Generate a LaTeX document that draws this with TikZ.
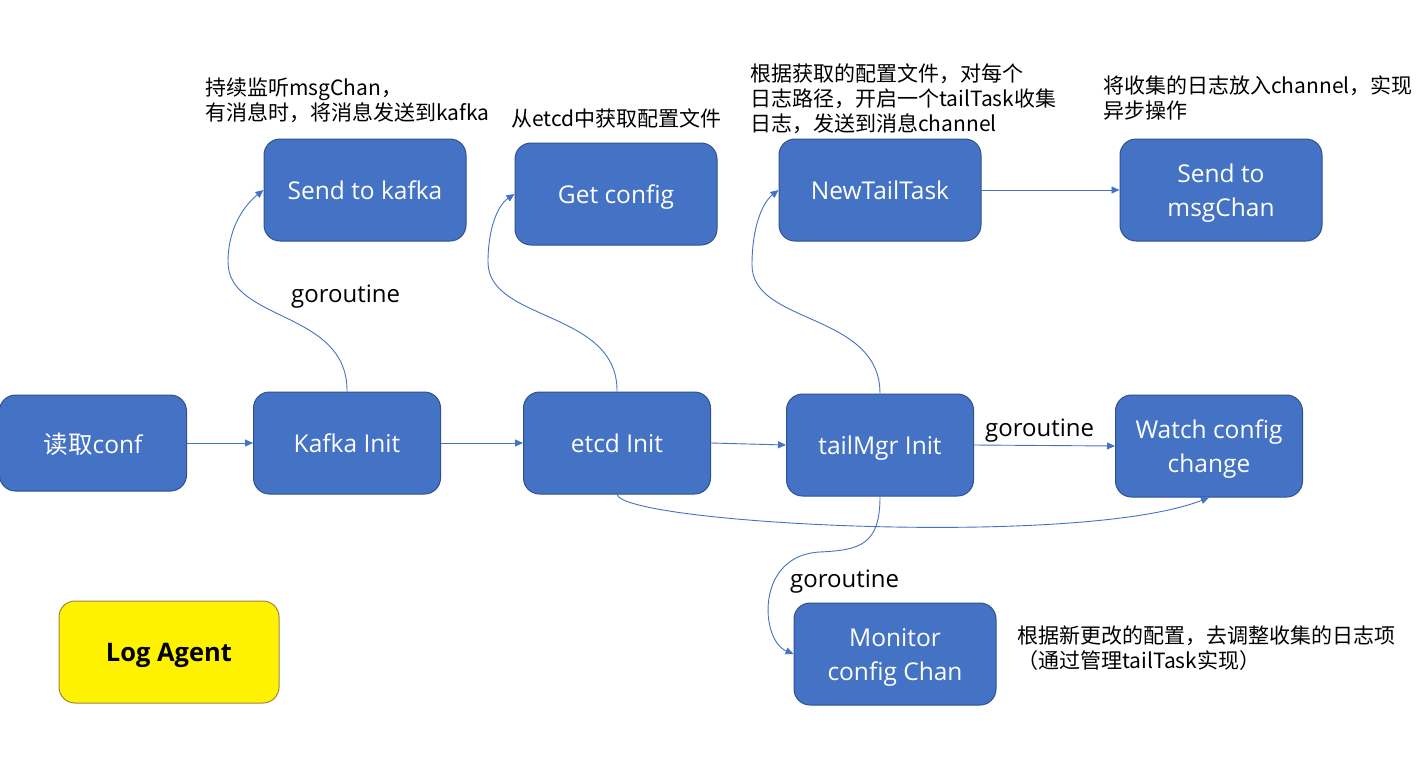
\documentclass[tikz,border=0pt]{standalone}
\usepackage{fontspec}
\setmainfont{Open Sans}
\newfontfamily\cjk{Noto Sans CJK SC}
\usetikzlibrary{arrows.meta}
\definecolor{boxblue}{HTML}{4472C4}
\definecolor{boxedge}{HTML}{2F528F}
\definecolor{agentedge}{HTML}{A08443}
\begin{document}
\begin{tikzpicture}[x=1pt,y=-1pt,
  box/.style={draw=boxedge, line width=1pt, fill=boxblue, rounded corners=16pt,
    minimum width=187pt, minimum height=102pt, inner sep=0pt, text=white,
    font=\fontsize{24.5}{34}\selectfont, align=center, text depth=0pt},
  widebox/.style={box, minimum width=202pt},
  twoline/.style={text depth=-3pt},
  conn/.style={draw=boxblue, line width=0.9pt, -{Triangle[length=8pt,width=7pt]}},
  note/.style={font=\cjk\fontsize{21}{25}\selectfont, align=left, inner sep=0pt, anchor=base west},
  golabel/.style={font=\fontsize{24}{28}\selectfont, inner sep=0pt, anchor=base west}]
\useasboundingbox[fill=white] (0,0) rectangle (1422,764);

% main row
\node[box, minimum height=96pt] (conf) at (93,443) {{\cjk 读取}conf};
\node[box] (kafka) at (347,443) {Kafka Init};
\node[box] (etcd) at (617,443) {etcd Init};
\node[box] (tailmgr) at (880,445) {tailMgr Init};
\node[box, twoline] (watch) at (1209,446) {Watch config\\change};

% top row
\node[widebox] (send) at (365,190) {Send to kafka};
\node[widebox] (getcfg) at (616,194) {Get config};
\node[widebox] (newtail) at (880,190) {NewTailTask};
\node[widebox, twoline] (sendmsg) at (1221,190) {Send to\\msgChan};

% bottom
\node[widebox, twoline] (monitor) at (895,654) {Monitor\\config Chan};
\node[box, minimum width=220pt, fill=yellow, draw=agentedge, text=black,
      font=\bfseries\fontsize{25.5}{30}\selectfont] (agent) at (169,652) {Log Agent};

% notes (anchor = baseline of the last line)
\node[note] (n1) at (205,120) {持续监听msgChan，\\有消息时，将消息发送到kafka};
\node[note] (n2) at (511,126) {从etcd中获取配置文件};
\node[note] (n3) at (750,131) {根据获取的配置文件，对每个\\日志路径，开启一个tailTask收集\\日志，发送到消息channel};
\node[note] (n4) at (1103,118) {将收集的日志放入channel，实现\\异步操作};
\node[note] (n5) at (1017,668) {根据新更改的配置，去调整收集的日志项\\（通过管理tailTask实现）};

% goroutine labels
\node[golabel] (g1) at (291,302) {goroutine};
\node[golabel] (g2) at (985,436) {goroutine};
\node[golabel] (g3) at (790,587) {goroutine};

% straight connectors
\draw[conn] (conf.east) -- (kafka.west);
\draw[conn] (kafka.east) -- (etcd.west);
\draw[conn] (etcd.east) -- (tailmgr.west);
\draw[conn] (tailmgr.east) -- (watch.west);
\draw[conn] (newtail.east) -- (sendmsg.west);

% curved connectors
\draw[conn] (kafka.north) .. controls (348,310) and (228,322) .. (228,262)
   .. controls (228,225) and (247,203) .. (send.west);
\draw[conn] (etcd.north) .. controls (618,310) and (488,322) .. (488,262)
   .. controls (488,228) and (498,205) .. (getcfg.west);
\draw[conn] (tailmgr.north) .. controls (880,312) and (752,325) .. (752,265)
   .. controls (752,228) and (762,203) .. (newtail.west);
\draw[conn] (etcd.south) .. controls (625,524) and (1080,548) .. (watch.south);
\draw[conn] (tailmgr.south) .. controls (880,545) and (860,550) .. (820,552)
   .. controls (755,555) and (760,640) .. (monitor.west);
\end{tikzpicture}
\end{document}
